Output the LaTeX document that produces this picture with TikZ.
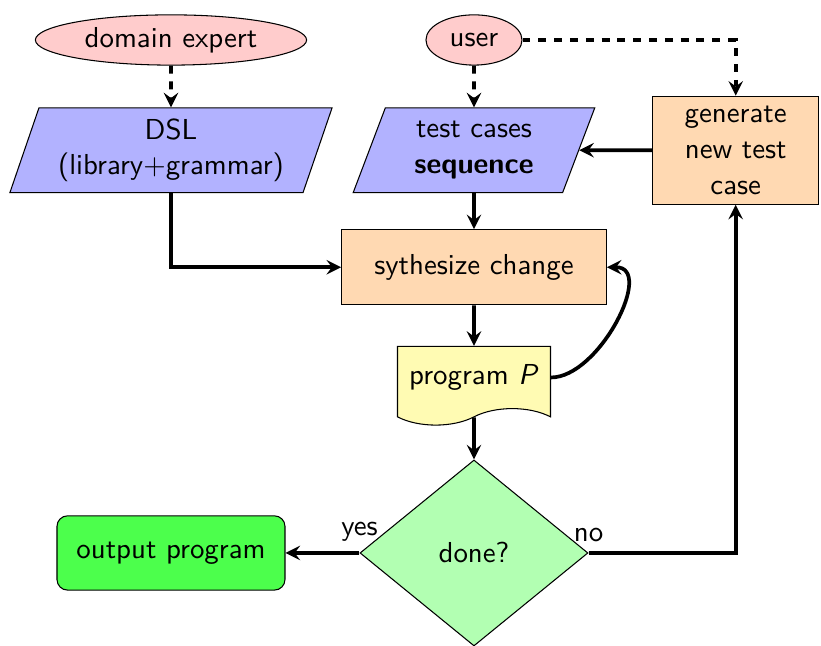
\documentclass[tikz,border=0pt,11pt]{standalone}
\usepackage{tikz}
\usetikzlibrary{shapes.geometric, shapes.symbols, arrows, positioning}
\tikzstyle{actor} = [ellipse, 
minimum height=0.67cm,
inner ysep=1pt,
text centered, 
draw=black, 
fill=red!20]
\tikzstyle{data} = [trapezium, 
trapezium stretches=true, 
trapezium left angle=72, 
trapezium right angle=108, 
minimum height=1.13cm, 
align=center,
draw=black, fill=blue!30]
\tikzstyle{process} = [rectangle, 
minimum width=3.53cm, 
minimum height=1cm, 
align=center, 
draw=black, 
fill=orange!30]
\tikzstyle{document} = [tape, 
tape bend top=none, 
tape bend height=0.22cm, 
minimum width=2.04cm, 
minimum height=1.05cm, 
draw=black, 
fill=yellow!30]
\tikzstyle{decision} = [diamond, 
minimum width=3.04cm, 
minimum height=2.48cm, 
align=center, 
draw=black, 
fill=green!30]
\tikzstyle{result} = [rectangle, rounded corners, 
minimum width=3.04cm, 
minimum height=0.99cm, 
draw=black, 
fill=green!70]
\tikzstyle{arrow} = [line width=1.4pt,->,>=stealth]

\begin{document}
\begin{tikzpicture}[node distance=1.47cm, font=\sffamily]

\useasboundingbox (-2.28, 0.533) rectangle (8.667, -8.08);

\node (expert) [actor] {domain expert};
\node (dsl) [data, below of=expert, minimum width=4.3cm] {DSL \\ (library+grammar)};
\node (tests) [data, right of=dsl, xshift=2.57cm, minimum width=3.24cm] {test cases \\ \textbf{sequence}};
\node (user) [actor, above of=tests] {user};
\node (gen) [process, right of=tests, xshift=2.02cm, minimum width=2.21cm, minimum height=1.44cm] {generate \\ new test \\ case};

\node (synth) [process, below of=tests, yshift=-0.09cm] {sythesize change};
\node (prog) [document, below of=synth] {program \textit{P}};

% beslissing
\node (done) [decision, below of=prog, yshift=-0.87cm] {done?};
\node (output) [result, left of=done, xshift=-2.57cm] {output program};

\draw [arrow, dashed] (expert) -- (dsl);
\draw [arrow, dashed] (user) -- (tests);
\draw [arrow, dashed] (user.east) -| (gen.north);
\draw [arrow] (gen) -- (tests);
\draw [arrow] (dsl.south) |- (synth.west);
\draw [arrow] (tests) -- (synth);
\draw [arrow] (synth) -- (prog);
\draw [arrow] (prog.east) to[out=0, in=0] (synth.east);
\draw [arrow] (prog) -- (done);
\draw [arrow] (done.west) -- node[pos=0, above] {yes} (output);
\draw [arrow] (done.east) -| node[pos=0, above] {no} (gen.south);

\end{tikzpicture}
\end{document}
